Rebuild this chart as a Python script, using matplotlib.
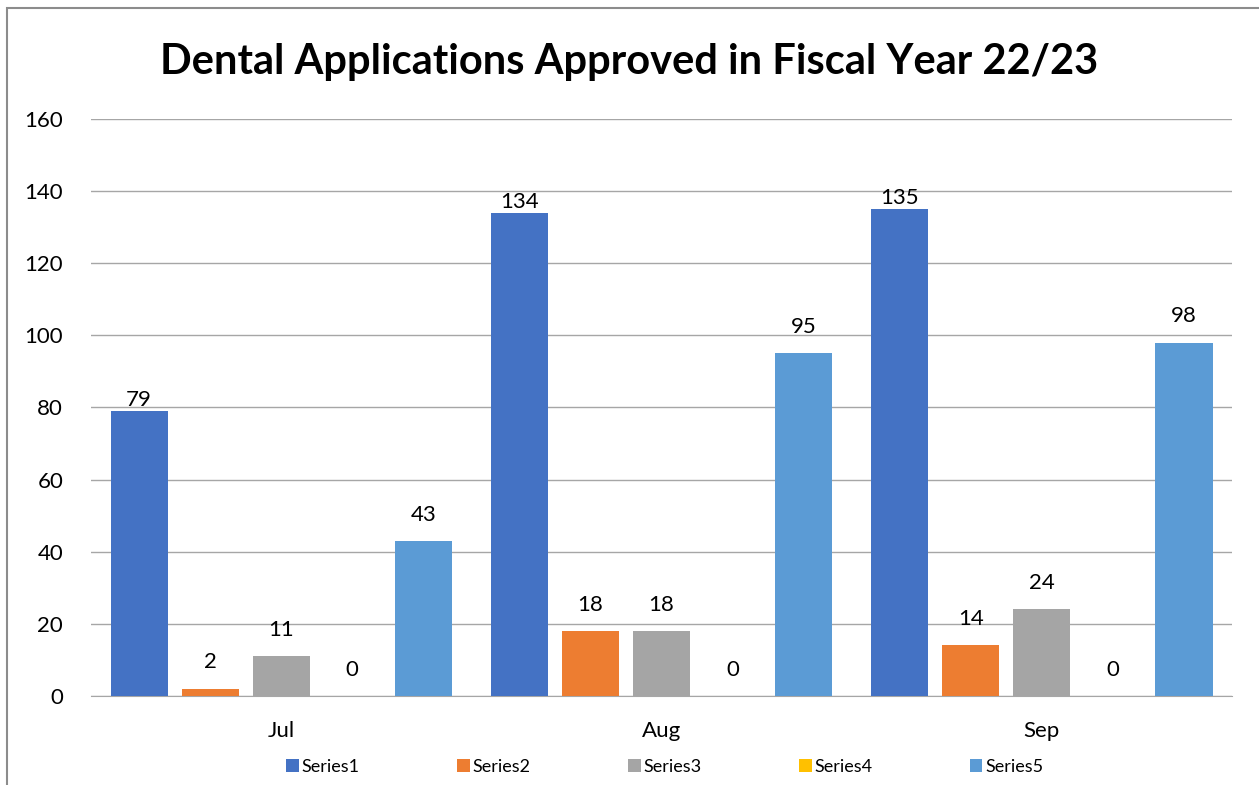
import matplotlib.pyplot as plt
from matplotlib.patches import Rectangle
import numpy as np

plt.rcParams['font.family'] = ['Lato', 'DejaVu Sans']

months = ['Jul', 'Aug', 'Sep']
series_names = ['Series1', 'Series2', 'Series3', 'Series4', 'Series5']
series1 = [79, 134, 135]
series2 = [2, 18, 14]
series3 = [11, 18, 24]
series4 = [0, 0, 0]
series5 = [43, 95, 98]
colors = ['#4472C4', '#ED7D31', '#A5A5A5', '#FFC000', '#5B9BD5']

all_series = [series1, series2, series3, series4, series5]

fig = plt.figure(figsize=(12.59, 7.85), dpi=100)
ax = fig.add_axes([0.0723, 0.1134, 0.9063, 0.735])

x = np.arange(len(months))
step = 0.1868
width = 0.15
for i, (vals, name, c) in enumerate(zip(all_series, series_names, colors)):
    pos = x + (i - 2) * step
    bars = ax.bar(pos, vals, width=width, color=c, label=name, zorder=3)
    # first series labels sit closer to the bar top
    off = 8 if i == 0 else 19
    for b, v in zip(bars, vals):
        ax.annotate(str(v), (b.get_x() + b.get_width() / 2, v),
                    xytext=(0, off), textcoords='offset points',
                    ha='center', va='center', fontsize=16, color='black')

ax.set_xlim(-0.5, 2.5)
ax.set_ylim(0, 160)
ax.set_yticks(range(0, 161, 20))
ax.set_xticks(x)
ax.set_xticklabels(months)
ax.tick_params(axis='both', length=0, labelsize=16)
ax.tick_params(axis='y', pad=20)
ax.tick_params(axis='x', pad=18)
ax.grid(axis='y', color='#a6a6a6', linewidth=1, zorder=0)
for s in ['top', 'right', 'left']:
    ax.spines[s].set_visible(False)
ax.spines['bottom'].set_color('#a6a6a6')

fig.suptitle('Dental Applications Approved in Fiscal Year 22/23',
             fontsize=30, fontweight='bold', y=0.945)

fig.legend(loc='lower center', ncol=5, frameon=False, fontsize=13,
           bbox_to_anchor=(0.528, -0.008), handlelength=0.7, handleheight=0.7,
           handletextpad=0.15, columnspacing=5.4)

fig.patches.append(Rectangle((7 / 1259, -0.1), 1.2, 1 - 8 / 785 + 0.1,
                             transform=fig.transFigure, fill=False,
                             edgecolor='#8c8c8c', linewidth=1.5))

fig.savefig('out.png', dpi=100)
